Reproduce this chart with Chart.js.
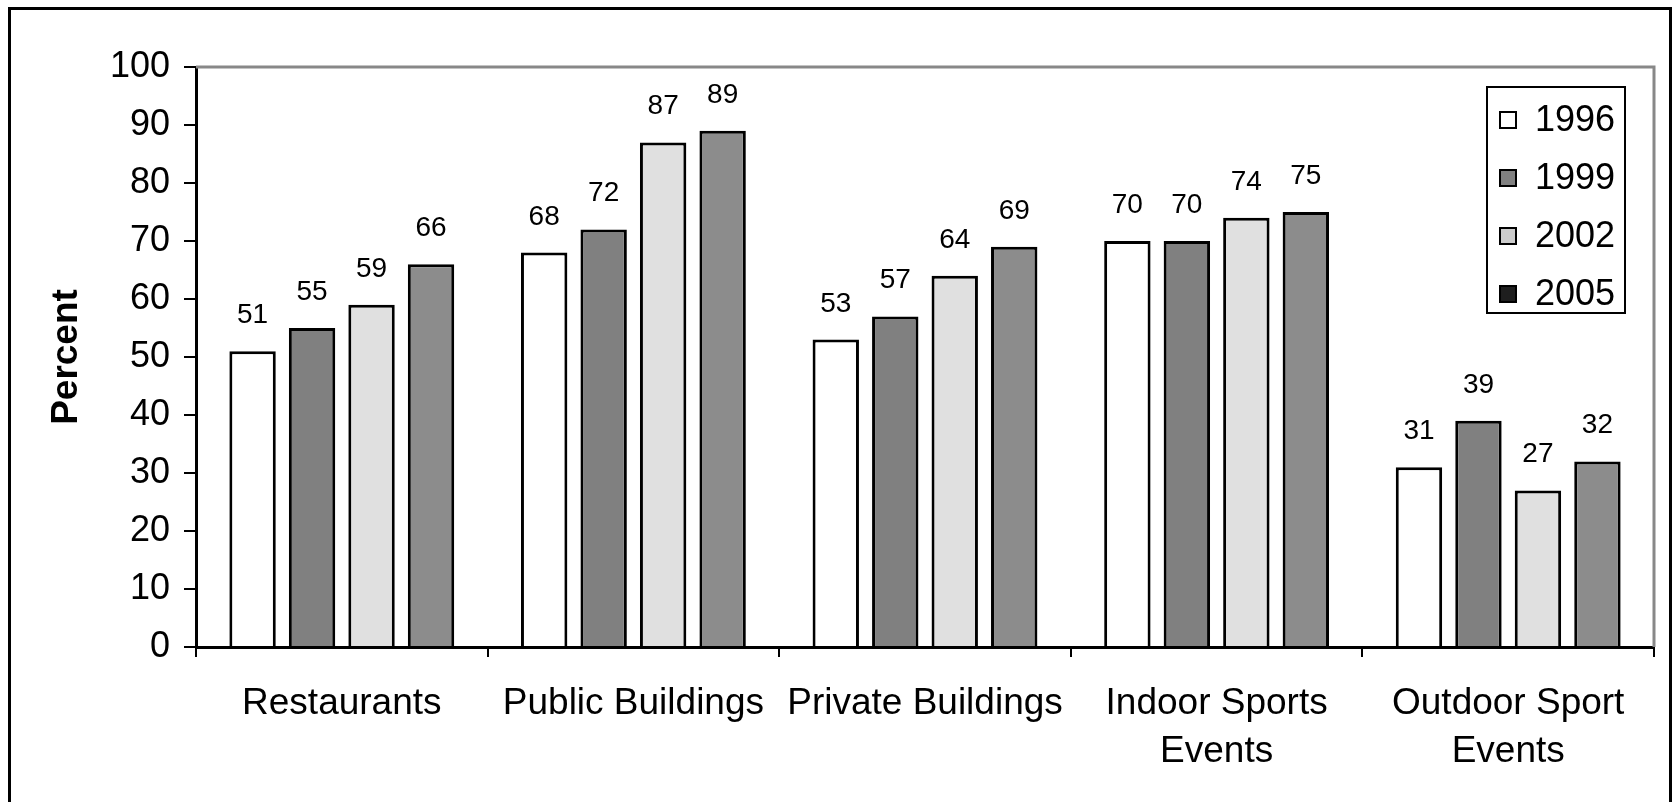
<!DOCTYPE html>
<html>
<head>
<meta charset="utf-8">
<script src="https://cdn.jsdelivr.net/npm/chart.js@4/dist/chart.umd.min.js"></script>
<style>
  html, body { margin: 0; padding: 0; background: #fff; overflow: hidden; }
  #wrap { width: 1673px; height: 802px; position: relative; }
</style>
</head>
<body>
<div id="wrap"><canvas id="chart" width="1673" height="802"></canvas></div>
<script>
// Categories and series values
const categories = ['Restaurants', 'Public Buildings', 'Private Buildings', ['Indoor Sports', 'Events'], ['Outdoor Sport', 'Events']];
const years = ['1996', '1999', '2002', '2005'];
const values1996 = [51, 68, 53, 70, 31];
const values1999 = [55, 72, 57, 70, 39];
const values2002 = [59, 87, 64, 74, 27];
const values2005 = [66, 89, 69, 75, 32];
const yTicks = [0, 10, 20, 30, 40, 50, 60, 70, 80, 90, 100];

const barColors = ['#ffffff', '#808080', '#e0e0e0', '#8c8c8c'];
const legendColors = ['#ffffff', '#808080', '#cccccc', '#1e1e1e'];
const FONT = '"Liberation Sans", Arial, sans-serif';

const allValues = [values1996, values1999, values2002, values2005];

// Outer frame and gray plot-area border
const framePlugin = {
    id: 'frame',
    beforeDraw(chart) {
        const ctx = chart.ctx;
        ctx.save();
        ctx.fillStyle = '#fff';
        ctx.fillRect(0, 0, chart.width, chart.height);
        ctx.restore();
    },
    afterDraw(chart) {
        const ctx = chart.ctx;
        const a = chart.chartArea;
        ctx.save();
        ctx.strokeStyle = '#888';
        ctx.lineWidth = 3;
        ctx.beginPath();
        ctx.moveTo(a.left, a.top);
        ctx.lineTo(a.right, a.top);
        ctx.lineTo(a.right, a.bottom);
        ctx.stroke();
        ctx.strokeStyle = '#000';
        ctx.lineWidth = 3;
        ctx.strokeRect(9.5, 8.5, 1661, 900);
        ctx.restore();
    }
};

// Value labels above each bar
const valueLabels = {
    id: 'valueLabels',
    afterDatasetsDraw(chart) {
        const ctx = chart.ctx;
        ctx.save();
        ctx.font = '28px ' + FONT;
        ctx.fillStyle = '#000';
        ctx.textAlign = 'center';
        ctx.textBaseline = 'alphabetic';
        chart.data.datasets.forEach((ds, i) => {
            chart.getDatasetMeta(i).data.forEach((bar, j) => {
                ctx.fillText(ds.data[j], bar.x, bar.y - 28);
            });
        });
        ctx.restore();
    }
};

// Boxed legend in the upper right
const boxLegend = {
    id: 'boxLegend',
    afterDraw(chart) {
        const ctx = chart.ctx;
        ctx.save();
        ctx.strokeStyle = '#000';
        ctx.lineWidth = 2;
        ctx.strokeRect(1487, 87, 138, 226);
        ctx.font = '36px ' + FONT;
        ctx.textBaseline = 'middle';
        ctx.textAlign = 'left';
        chart.data.datasets.forEach((ds, i) => {
            const cy = 120 + i * 58;
            ctx.fillStyle = legendColors[i];
            ctx.fillRect(1500, cy - 8, 16, 16);
            ctx.strokeRect(1500, cy - 8, 16, 16);
            ctx.fillStyle = '#000';
            ctx.fillText(ds.label, 1535, cy + 1);
        });
        ctx.restore();
    }
};

const ctx = document.getElementById('chart').getContext('2d');
new Chart(ctx, {
    type: 'bar',
    data: {
        labels: categories,
        datasets: years.map((y, i) => ({
            label: y,
            data: allValues[i],
            backgroundColor: barColors[i],
            borderColor: '#000',
            borderWidth: 3,
            borderSkipped: 'start',
            categoryPercentage: 0.816,
            barPercentage: 0.78
        }))
    },
    options: {
        responsive: false,
        animation: false,
        devicePixelRatio: 1,
        layout: { padding: { left: 45, top: 67, right: 19, bottom: 0 } },
        plugins: {
            legend: { display: false },
            tooltip: { enabled: false }
        },
        scales: {
            x: {
                afterFit(scale) { scale.height = 155; },
                grid: { display: true, drawOnChartArea: false, color: '#000', lineWidth: 2, tickLength: 10, offset: true },
                border: { display: true, color: '#000', width: 3, z: 1 },
                ticks: { color: '#000', font: { family: FONT, size: 37, lineHeight: 1.32 }, padding: 22, maxRotation: 0, autoSkip: false }
            },
            y: {
                min: 0,
                max: 100,
                afterFit(scale) { scale.width = 151; },
                afterBuildTicks(scale) { scale.ticks = yTicks.map(v => ({ value: v })); },
                grid: { display: true, drawOnChartArea: false, color: '#000', lineWidth: 2, tickLength: 12 },
                border: { display: true, color: '#000', width: 3 },
                ticks: { color: '#000', font: { family: FONT, size: 36 }, padding: 14 },
                title: { display: true, text: 'Percent', color: '#000', font: { family: FONT, size: 37, weight: 'bold' }, padding: 0 }
            }
        }
    },
    plugins: [framePlugin, valueLabels, boxLegend]
});
</script>
</body>
</html>
